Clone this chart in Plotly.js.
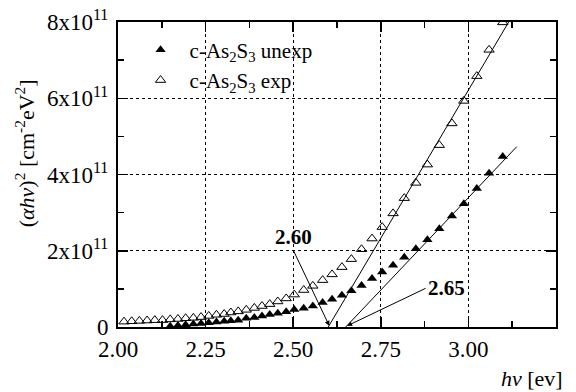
<!DOCTYPE html>
<html>
<head>
<meta charset="utf-8">
<script src="https://cdn.plot.ly/plotly-3.0.1.min.js"></script>
<style>html,body{margin:0;padding:0;background:#fff;}#chart{width:576px;height:392px;}</style>
</head>
<body>
<div id="chart"></div>
<script>
// photon energy (eV) for the exposed sample
const energyExp = [2.017,2.039,2.061,2.083,2.105,2.127,2.149,2.171,2.193,2.215,2.237,2.259,2.281,2.303,2.322,2.343,2.366,2.389,2.411,2.433,2.456,2.480,2.503,2.530,2.556,2.584,2.611,2.639,2.666,2.695,2.725,2.754,2.785,2.817,2.850,2.883,2.917,2.953,2.987,3.024,3.059,3.098];
// (alpha h nu)^2 in units of 1e11 cm^-2 eV^2
const valuesExp = [0.14,0.15,0.16,0.17,0.18,0.18,0.20,0.21,0.23,0.24,0.26,0.29,0.32,0.34,0.38,0.41,0.45,0.50,0.55,0.60,0.67,0.75,0.85,0.97,1.08,1.23,1.38,1.57,1.78,2.04,2.32,2.62,2.98,3.38,3.78,4.26,4.77,5.34,5.93,6.58,7.27,7.99];
// unexposed sample
const energyUnexp = [2.149,2.171,2.193,2.215,2.237,2.259,2.281,2.303,2.322,2.343,2.366,2.389,2.411,2.433,2.456,2.480,2.503,2.530,2.556,2.584,2.611,2.639,2.666,2.695,2.725,2.754,2.785,2.817,2.850,2.883,2.917,2.953,2.987,3.024,3.059,3.098];
const valuesUnexp = [0.02,0.04,0.06,0.08,0.09,0.11,0.13,0.15,0.165,0.18,0.23,0.25,0.29,0.33,0.36,0.40,0.46,0.49,0.55,0.64,0.73,0.83,0.95,1.09,1.27,1.44,1.62,1.83,2.05,2.29,2.58,2.91,3.23,3.63,4.03,4.47];
// linear fits (Tauc extrapolation)
const fitExpX = [2.60, 3.115];
const fitExpY = [0, 8.0];
const fitUnexpX = [2.65, 3.138];
const fitUnexpY = [0, 4.73];
// band-gap labels
const gapLabels = ['2.60', '2.65'];
const gapValues = [2.603, 2.654];
// tick labels
const yTickVals = [0, 2, 4, 6, 8];
const yTickText = ['0', '2x10<sup>11</sup>', '4x10<sup>11</sup>', '6x10<sup>11</sup>', '8x10<sup>11</sup>'];
const xTickVals = [2.00, 2.25, 2.50, 2.75, 3.00, 3.25];
const xTickText = ['2.00', '2.25', '2.50', '2.75', '3.00', '3.25'];

const serif = "'Liberation Serif', 'Times New Roman', Times, serif";

const traces = [
  {x: energyUnexp, y: valuesUnexp, mode: 'markers', name: 'c-As<sub>2</sub>S<sub>3</sub> unexp',
   marker: {symbol: 'triangle-up', size: 9, color: '#000'}},
  {x: energyExp, y: valuesExp, mode: 'markers', name: 'c-As<sub>2</sub>S<sub>3</sub> exp',
   marker: {symbol: 'triangle-up-open', size: 9, color: '#000', line: {width: 1, color: '#000'}}},
  {x: fitExpX, y: fitExpY, mode: 'lines', line: {color: '#000', width: 1}, showlegend: false, hoverinfo: 'skip'},
  {x: fitUnexpX, y: fitUnexpY, mode: 'lines', line: {color: '#000', width: 1}, showlegend: false, hoverinfo: 'skip'}
];

const axisCommon = {
  showline: true, linewidth: 2, linecolor: '#000', mirror: 'ticks',
  ticks: 'inside', ticklen: 10, tickwidth: 1.5, tickcolor: '#000',
  showgrid: true, gridcolor: '#000', gridwidth: 1, griddash: 'dot',
  zeroline: false, tickfont: {family: serif, size: 23, color: '#000'}
};

const layout = {
  width: 576, height: 392,
  margin: {l: 118, r: 20, t: 22, b: 65},
  paper_bgcolor: '#fff', plot_bgcolor: '#fff',
  font: {family: serif, color: '#000'},
  showlegend: true,
  legend: {x: 0.031, y: 0.975, xanchor: 'left', yanchor: 'top', bgcolor: 'rgba(0,0,0,0)', itemwidth: 48,
           font: {family: serif, size: 21, color: '#000'}, tracegroupgap: 0},
  xaxis: Object.assign({}, axisCommon, {
    range: [2.0, 3.25], tickmode: 'array', tickvals: xTickVals, ticktext: xTickText,
    minor: {dtick: 0.125, tick0: 2.0, ticks: 'inside', ticklen: 6, tickwidth: 1.5, tickcolor: '#000', showgrid: false}
  }),
  yaxis: Object.assign({}, axisCommon, {
    range: [0, 8], tickmode: 'array', tickvals: yTickVals, ticktext: yTickText, ticklabelstandoff: 3,
    minor: {dtick: 1, tick0: 0, ticks: 'inside', ticklen: 6, tickwidth: 1.5, tickcolor: '#000', showgrid: false}
  }),
  annotations: [
    {xref: 'paper', yref: 'paper', x: -0.212, y: 0.57, xanchor: 'center', yanchor: 'middle', textangle: -90, showarrow: false,
     text: '(<i>αhν</i>)<sup>2</sup> [cm<sup>-2</sup>eV<sup>2</sup>]', font: {family: serif, size: 22, color: '#000'}},
    {xref: 'paper', yref: 'paper', x: 1.02, y: -0.17, xanchor: 'right', yanchor: 'middle', showarrow: false,
     text: '<i>hν</i> [ev]', font: {family: serif, size: 22, color: '#000'}},
    {xref: 'x', yref: 'y', x: gapValues[0], y: 0.03, axref: 'x', ayref: 'y', ax: 2.501, ay: 2.0,
     xanchor: 'center', yanchor: 'bottom', showarrow: true, arrowhead: 2, arrowsize: 1, arrowwidth: 1, arrowcolor: '#000',
     text: '<b>' + gapLabels[0] + '</b>', font: {family: serif, size: 21, color: '#000'}},
    {xref: 'x', yref: 'y', x: gapValues[1], y: 0.03, axref: 'x', ayref: 'y', ax: 2.878, ay: 1.015,
     xanchor: 'left', yanchor: 'middle', showarrow: true, arrowhead: 2, arrowsize: 1, arrowwidth: 1, arrowcolor: '#000',
     text: '<b>' + gapLabels[1] + '</b>', font: {family: serif, size: 21, color: '#000'}}
  ]
};

Plotly.newPlot('chart', traces, layout, {displayModeBar: false, staticPlot: true});
</script>
</body>
</html>
